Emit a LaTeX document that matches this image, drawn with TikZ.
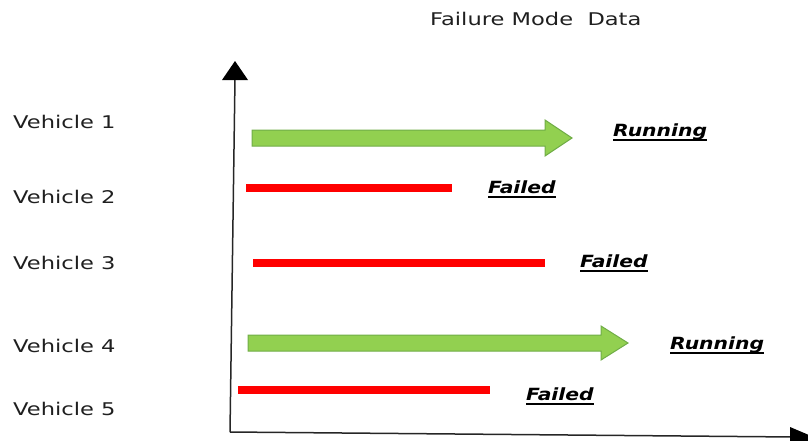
\documentclass[tikz,border=0pt]{standalone}
\usepackage{fontspec}
\setmainfont{DejaVu Sans}
\definecolor{txt}{HTML}{1F1F1F}
\definecolor{gfill}{HTML}{92D050}
\definecolor{gline}{HTML}{70AD47}
\definecolor{axis}{HTML}{262626}
\definecolor{redbar}{HTML}{FF0000}
\begin{document}
\begin{tikzpicture}[x=1pt,y=-1pt,
  veh/.style={anchor=base west,inner sep=0pt,text=txt,font=\fontsize{17.5}{20}\selectfont},
  lbl/.style={anchor=base west,inner sep=0pt,text=black,font=\fontsize{16.8}{20}\selectfont\bfseries\itshape},
  ul/.style={line width=1.4pt,black},
  axisline/.style={line width=1.5pt,axis},
  axishead/.style={fill=black,draw=none},
  garrow/.style={fill=gfill,draw=gline,line width=1pt,line join=miter},
  rbar/.style={redbar,line width=8pt}]
\useasboundingbox (0,0) rectangle (808,440);
% title
\node[veh] (title) at (430,25) {\scalebox{1.29}[1]{Failure Mode\ \ Data}};
% vehicle labels
\node[veh] (v1) at (13,128) {\scalebox{1.29}[1]{Vehicle 1}};
\node[veh] (v2) at (13,203) {\scalebox{1.29}[1]{Vehicle 2}};
\node[veh] (v3) at (13,269) {\scalebox{1.29}[1]{Vehicle 3}};
\node[veh] (v4) at (13,352) {\scalebox{1.29}[1]{Vehicle 4}};
\node[veh] (v5) at (13,415) {\scalebox{1.29}[1]{Vehicle 5}};
% axes
\coordinate (origin) at (230,432);
\coordinate (ytop) at (235,78);
\coordinate (xend) at (795,437);
\draw[axisline] (origin) -- (ytop);
\draw[axisline] (origin) -- (xend);
\fill[axishead] (235,61) -- (248,80) -- (222,80) -- cycle;
\fill[axishead] (816,438) -- (790,427) -- (790,449) -- cycle;
% green arrows
\draw[garrow] (252,130) -- (545,130) -- (545,120) -- (572,138) -- (545,156) -- (545,146) -- (252,146) -- cycle;
\draw[garrow] (248,335) -- (601,335) -- (601,326) -- (628,343) -- (601,360) -- (601,351) -- (248,351) -- cycle;
% red bars
\draw[rbar] (246,188) -- (452,188);
\draw[rbar] (253,263) -- (545,263);
\draw[rbar] (238,390) -- (490,390);
% status labels
\node[lbl] (r1) at (613,136) {\scalebox{1.21}[1]{Running}};
\node[lbl] (f2) at (488,193) {\scalebox{1.21}[1]{Failed}};
\node[lbl] (f3) at (580,267) {\scalebox{1.21}[1]{Failed}};
\node[lbl] (r4) at (670,349) {\scalebox{1.21}[1]{Running}};
\node[lbl] (f5) at (526,400) {\scalebox{1.21}[1]{Failed}};
\foreach \n in {r1,f2,f3,r4,f5}
  \draw[ul] ([yshift=-4pt]\n.base west) -- ([yshift=-4pt]\n.base east);
\end{tikzpicture}
\end{document}
